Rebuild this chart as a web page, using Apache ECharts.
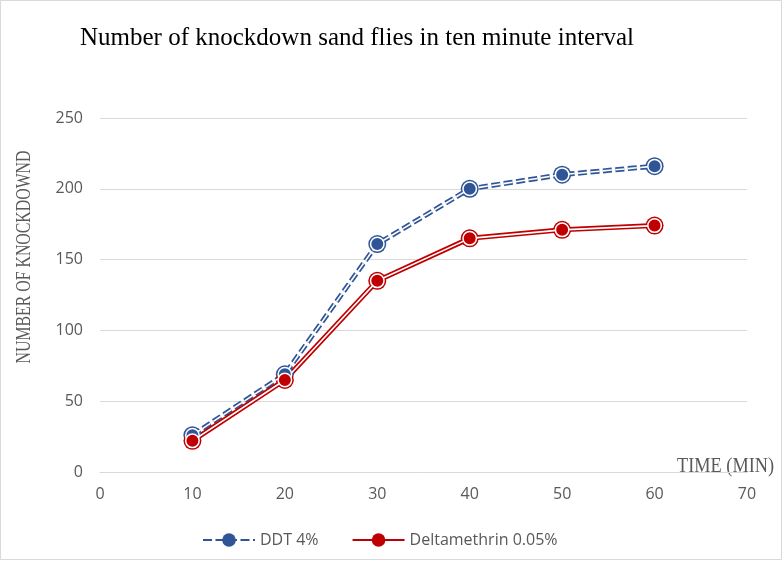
<!DOCTYPE html>
<html><head><meta charset="utf-8">
<script src="https://cdn.jsdelivr.net/npm/echarts@6/dist/echarts.min.js"></script>
<style>html,body{margin:0;padding:0;background:#fff}#c{width:782px;height:561px}</style>
</head><body><div id="c"></div>
<script>
const times = [10, 20, 30, 40, 50, 60];
const ddt = [26, 69, 161, 200, 210, 216];
const delta = [22, 65, 135, 165, 171, 174];
const seriesNames = ['DDT 4%', 'Deltamethrin 0.05%'];
const titleText = 'Number of knockdown sand flies in ten minute interval';
const yName = 'NUMBER OF KNOCKDOWND';
const xName = 'TIME (MIN)';

const blue = '#2F5597', red = '#C00000';
function pairs(v){ return times.map((t,i)=>[t, v[i]]); }
function group(name, vals, color, dashed){
  const type = dashed ? [9,3.5] : 'solid';
  return [
    {name, type:'line', data:pairs(vals), symbol:'circle', symbolSize:18, z:2,
     lineStyle:{color, width:5, type}, itemStyle:{color}},
    {name, type:'line', data:pairs(vals), symbol:'none', z:3, silent:true,
     lineStyle:{color:'#fff', width:1.6, type}, itemStyle:{color}},
    {name, type:'line', data:pairs(vals), symbol:'circle', symbolSize:13.5, z:4, silent:true,
     lineStyle:{width:0, opacity:0}, itemStyle:{color, borderColor:'#fff', borderWidth:1.5}}
  ];
}
const chart = echarts.init(document.getElementById('c'), null, {renderer:'canvas'});
chart.setOption({
  animation:false,
  backgroundColor:'#fff',
  grid:{left:100, right:35, top:118, bottom:89},
  legend:{data:seriesNames, bottom:8, left:197, itemWidth:52, itemHeight:17, itemGap:33,
    textStyle:{fontFamily:'Open Sans', fontSize:16, color:'#595959'}},
  xAxis:{type:'value', min:0, max:70, interval:10,
    axisLine:{show:true, lineStyle:{color:'#d9d9d9', width:1}}, axisTick:{show:false},
    splitLine:{show:false},
    axisLabel:{fontFamily:'Open Sans', fontSize:16, color:'#595959', margin:14}},
  yAxis:{type:'value', min:0, max:250, interval:50,
    axisLine:{show:false}, axisTick:{show:false},
    splitLine:{lineStyle:{color:'#d9d9d9', width:1}},
    axisLabel:{fontFamily:'Open Sans', fontSize:16, color:'#595959', margin:17}},
  graphic:[
    {type:'rect', shape:{x:0.5,y:0.5,width:781,height:559}, style:{fill:'none', stroke:'#d9d9d9', lineWidth:1}, silent:true},
    {type:'text', x:80, y:26, silent:true,
     style:{text:titleText, font:'25px "Liberation Serif"', fill:'#000', verticalAlign:'top'}},
    {type:'text', x:24, y:257, rotation:Math.PI/2, scaleX:0.72, silent:true,
     style:{text:yName, font:'22px "Liberation Serif"', fill:'#595959', align:'center', verticalAlign:'middle'}},
    {type:'text', x:774, y:477, scaleX:0.87, silent:true,
     style:{text:xName, font:'21px "Liberation Serif"', fill:'#595959', align:'right', verticalAlign:'bottom'}}
  ],
  series:[...group(seriesNames[0], ddt, blue, true), ...group(seriesNames[1], delta, red, false)]
});
</script></body></html>
